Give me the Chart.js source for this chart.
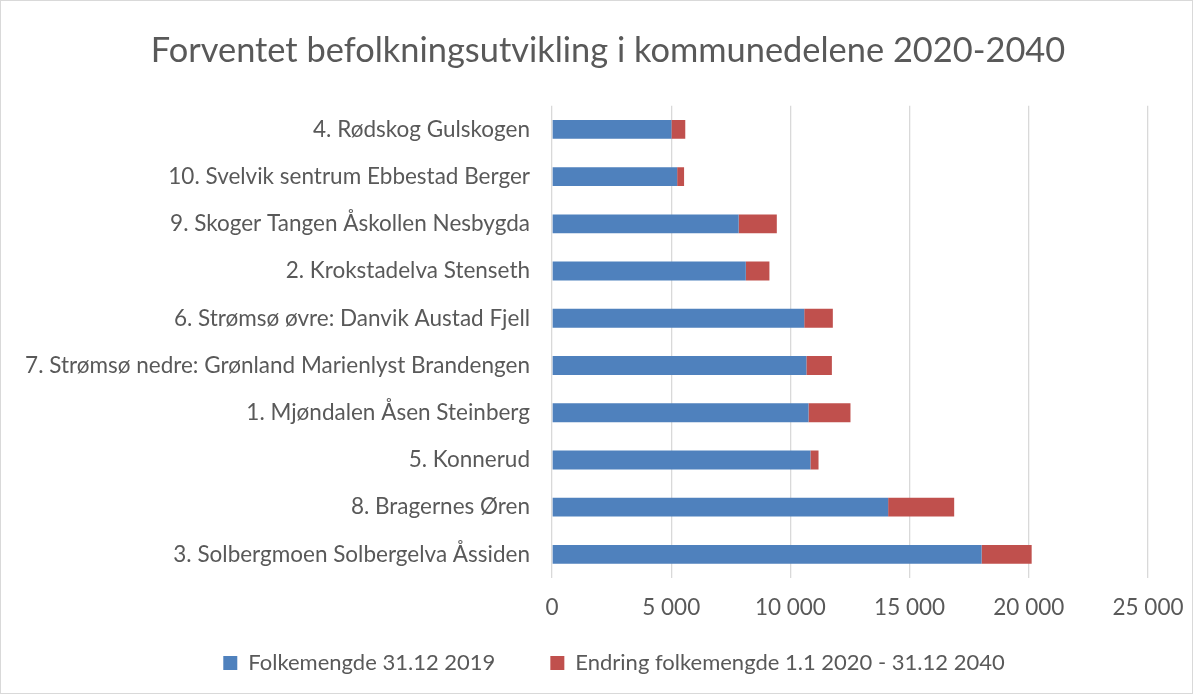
<!DOCTYPE html>
<html>
<head>
<meta charset="utf-8">
<script src="https://cdn.jsdelivr.net/npm/chart.js@4/dist/chart.umd.min.js"></script>
<style>
  html, body { margin: 0; padding: 0; background: #fff; }
  #wrap { width: 1191px; height: 692px; border: 1px solid #d9d9d9; }
</style>
</head>
<body>
<div id="wrap"><canvas id="grafico" width="1191" height="692"></canvas></div>
<script>
const kommunedeler = [
  "4. Rødskog Gulskogen",
  "10. Svelvik sentrum Ebbestad Berger",
  "9. Skoger Tangen Åskollen Nesbygda",
  "2. Krokstadelva Stenseth",
  "6. Strømsø øvre: Danvik Austad Fjell",
  "7. Strømsø nedre: Grønland Marienlyst Brandengen",
  "1. Mjøndalen Åsen Steinberg",
  "5. Konnerud",
  "8. Bragernes Øren",
  "3. Solbergmoen Solbergelva Åssiden"
];
const folkemengde2019 = [5010, 5250, 7830, 8130, 10580, 10670, 10760, 10840, 14100, 18020];
const endring2040 = [580, 290, 1600, 990, 1200, 1070, 1760, 340, 2770, 2100];
const xTicks = [0, 5000, 10000, 15000, 20000, 25000];

const tekstFarge = "#595959";
const fontNavn = "Lato, 'Liberation Sans', sans-serif";

function formatTall(v) {
  return v.toString().replace(/\B(?=(\d{3})+(?!\d))/g, " ");
}

// flytter tittel og forklaring litt mot høyre, slik som i Excel-figuren
const plassering = {
  id: "plassering",
  afterLayout(chart) {
    chart.titleBlock.left += 26;
    chart.titleBlock.right += 26;
    chart.legend.left += 32;
    chart.legend.right += 32;
  }
};

new Chart(document.getElementById("grafico"), {
  type: "bar",
  data: {
    labels: kommunedeler,
    datasets: [
      {
        label: "Folkemengde 31.12 2019",
        data: folkemengde2019,
        backgroundColor: "#4F81BD",
        barPercentage: 0.8,
        categoryPercentage: 0.5
      },
      {
        label: "Endring folkemengde 1.1 2020 - 31.12 2040",
        data: endring2040,
        backgroundColor: "#C0504D",
        barPercentage: 0.8,
        categoryPercentage: 0.5
      }
    ]
  },
  options: {
    indexAxis: "y",
    responsive: false,
    animation: false,
    layout: { padding: { left: 15, right: 44, top: 0, bottom: 9 } },
    scales: {
      x: {
        stacked: true,
        min: 0,
        max: 25000,
        afterBuildTicks: (axis) => { axis.ticks = xTicks.map(v => ({ value: v })); },
        afterFit: (axis) => { axis.paddingRight = 30; },
        grid: { color: "#d9d9d9", lineWidth: 1.3, drawTicks: false },
        border: { display: false },
        ticks: {
          color: tekstFarge,
          font: { family: fontNavn, size: 22.5 },
          padding: 16,
          maxRotation: 0,
          callback: (v) => formatTall(v)
        }
      },
      y: {
        stacked: true,
        grid: { display: false },
        border: { display: false },
        afterFit: (axis) => { axis.width = 536; },
        ticks: {
          color: tekstFarge,
          font: { family: fontNavn, size: 22.5 },
          padding: 14
        }
      }
    },
    plugins: {
      title: {
        display: true,
        text: "Forventet befolkningsutvikling i kommunedelene 2020-2040",
        color: tekstFarge,
        font: { family: fontNavn, size: 34.4, weight: "normal" },
        padding: { top: 29, bottom: 34.5 }
      },
      legend: {
        position: "bottom",
        labels: {
          color: tekstFarge,
          font: { family: fontNavn, size: 22 },
          boxWidth: 14,
          boxHeight: 14,
          padding: 15,
          generateLabels: (chart) => {
            const items = Chart.defaults.plugins.legend.labels.generateLabels(chart);
            const mellomrom = { text: "", fillStyle: "rgba(0,0,0,0)", strokeStyle: "rgba(0,0,0,0)", lineWidth: 0, hidden: false };
            return [items[0], mellomrom, items[1]];
          }
        }
      },
      tooltip: { enabled: false }
    }
  },
  plugins: [plassering]
});
</script>
</body>
</html>
